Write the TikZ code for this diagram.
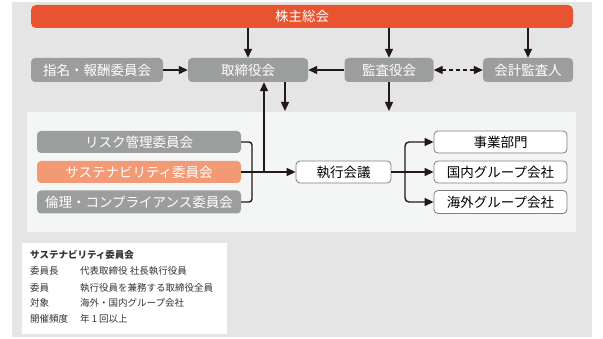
\documentclass[tikz,border=0pt]{standalone}
\usepackage{fontspec}
\setmainfont{Noto Sans CJK JP}
\usetikzlibrary{arrows.meta}
\definecolor{bgc}{HTML}{E5E5E5}
\definecolor{innerc}{HTML}{F4F5F5}
\definecolor{grayc}{HTML}{9C9D9D}
\definecolor{redc}{HTML}{E8542F}
\definecolor{orangec}{HTML}{F29A76}
\definecolor{linec}{HTML}{231815}
\definecolor{bordc}{HTML}{7F7F7F}
\definecolor{txtc}{HTML}{333333}
\tikzset{
  gbox/.style={fill=grayc, text=white, rounded corners=4pt, inner sep=0pt, font=\fontsize{13.5}{14}\selectfont},
  rbox/.style={fill=redc, text=white, rounded corners=5pt, inner sep=0pt, font=\fontsize{13.5}{14}\selectfont},
  obox/.style={fill=orangec, text=white, rounded corners=4pt, inner sep=0pt, font=\fontsize{13.5}{14}\selectfont},
  wbox/.style={fill=white, draw=bordc, line width=0.8pt, text=black, rounded corners=4pt, inner sep=0pt, font=\fontsize{13.5}{14}\selectfont},
  conn/.style={draw=linec, line width=1.4pt},
  arr/.style={conn, -{Triangle[length=9pt,width=8pt]}},
  darr/.style={conn, dashed, dash pattern=on 4pt off 3pt, {Triangle[length=9pt,width=8pt]}-{Triangle[length=9pt,width=8pt]}},
  info/.style={anchor=west, text=txtc, inner sep=0pt, font=\fontsize{9.5}{10}\selectfont},
}
\begin{document}
\begin{tikzpicture}[x=1pt,y=-1pt]
\useasboundingbox (0,0) rectangle (603,339);
\fill[bgc] (12,2) rectangle (592,337);
\fill[innerc] (27,112) rectangle (576,232);
\fill[white] (22,243) rectangle (227,334);

% top
\node[rbox, minimum width=542pt, minimum height=23pt] (gm) at (302,16.5) {株主総会};
% row 2
\node[gbox, minimum width=132pt, minimum height=24pt] (nom) at (97,70) {指名・報酬委員会};
\node[gbox, minimum width=120pt, minimum height=24pt] (board) at (248,70) {取締役会};
\node[gbox, minimum width=89pt, minimum height=24pt] (audit) at (389,70) {監査役会};
\node[gbox, minimum width=90pt, minimum height=24pt] (auditor) at (528,70) {会計監査人};
% left committees
\node[gbox, minimum width=204pt, minimum height=22pt] (risk) at (139,142) {リスク管理委員会};
\node[obox, minimum width=204pt, minimum height=22pt] (sus) at (139,172) {サステナビリティ委員会};
\node[gbox, minimum width=204pt, minimum height=23pt] (eth) at (139,202) {倫理・コンプライアンス委員会};
% exec
\node[wbox, minimum width=95pt, minimum height=22pt] (exec) at (343.5,172) {執行会議};
% right
\node[wbox, minimum width=133pt, minimum height=22pt] (biz) at (500.5,142) {事業部門};
\node[wbox, minimum width=133pt, minimum height=22pt] (dom) at (500.5,172) {国内グループ会社};
\node[wbox, minimum width=133pt, minimum height=23pt] (ovs) at (500.5,202) {海外グループ会社};

% coordinates
\coordinate (bk) at (252,172);
\coordinate (jn) at (264,172);
\coordinate (bd) at (285,111);
\coordinate (ad) at (389,111);
\coordinate (ej) at (405,172);

% arrows top
\draw[arr] (gm.south -| board) -- (board.north);
\draw[arr] (gm.south -| audit) -- (audit.north);
\draw[arr] (gm.south -| auditor) -- (auditor.north);
\draw[arr] (nom.east) -- (board.west);
\draw[arr] (audit.west) -- (board.east);
\draw[darr] (audit.east) -- (auditor.west);
\draw[arr] (board.south -| bd) -- (bd);
\draw[arr] (audit.south) -- (ad);

% bracket and main line
\draw[conn, rounded corners=3pt] (risk.east) -| (bk) |- (eth.east);
\draw[arr] (sus.east) -- (exec.west);
\draw[arr] (jn) -- (board.south -| jn);

% exec branches
\draw[arr] (exec.east) -- (dom.west);
\draw[arr, rounded corners=4pt] (ej) |- (biz.west);
\draw[arr, rounded corners=4pt] (ej) |- (ovs.west);

% info box
\node[info, font=\fontsize{9.5}{10}\selectfont\bfseries] (it) at (30,255) {サステナビリティ委員会};
\node[info] (l1) at (30,271) {委員長};
\node[info] (v1) at (80,271) {代表取締役 社長執行役員};
\node[info] (l2) at (30,288) {委員};
\node[info] (v2) at (80,288) {執行役員を兼務する取締役全員};
\node[info] (l3) at (30,303) {対象};
\node[info] (v3) at (80,303) {海外・国内グループ会社};
\node[info] (l4) at (30,319) {開催頻度};
\node[info] (v4) at (80,319) {年 1 回以上};
\end{tikzpicture}
\end{document}
